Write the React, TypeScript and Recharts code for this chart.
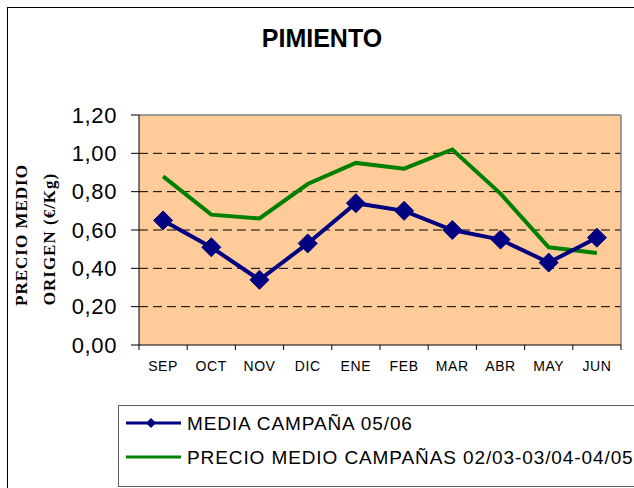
import React from 'react';
import { LineChart, Line, XAxis, YAxis, CartesianGrid, ReferenceLine, Legend } from 'recharts';

const months = ['SEP', 'OCT', 'NOV', 'DIC', 'ENE', 'FEB', 'MAR', 'ABR', 'MAY', 'JUN'];
const media0506 = [0.65, 0.51, 0.34, 0.53, 0.74, 0.70, 0.60, 0.55, 0.43, 0.56];
const precioMedio = [0.88, 0.68, 0.66, 0.84, 0.95, 0.92, 1.02, 0.79, 0.51, 0.48];
const yTicks = [0, 0.2, 0.4, 0.6, 0.8, 1.0, 1.2];
const gridValues = [0.2, 0.4, 0.6, 0.8, 1.0];
const seriesNames = ['MEDIA CAMPAÑA 05/06', 'PRECIO MEDIO CAMPAÑAS 02/03-03/04-04/05'];
const title = 'PIMIENTO';
const yLabel = ['PRECIO MEDIO', 'ORIGEN (€/Kg)'];

const data = months.map((m, i) => ({ x: i + 0.5, month: m, media: media0506[i], precio: precioMedio[i] }));
const xTicks: number[] = [];
for (let i = 0; i <= 20; i++) xTicks.push(i / 2);

const BLUE = '#000080';
const GREEN = '#008000';
const SANS = '"Liberation Sans", Arial, sans-serif';
const SERIF = '"Liberation Serif", "Times New Roman", serif';

const XTick = (props: any) => {
  const { x, y, payload } = props;
  const v = payload.value;
  if (Number.isInteger(v)) {
    return <line x1={x} y1={y} x2={x} y2={y + 5} stroke="#000" strokeWidth={1} />;
  }
  const label = months[Math.floor(v)];
  return (
    <text x={x} y={y + 26} textAnchor="middle" fontFamily={SANS} fontSize={14} fill="#000" letterSpacing={0.6}>
      {label}
    </text>
  );
};

const Diamond = (props: any) => {
  const { cx, cy } = props;
  if (cx == null || cy == null) return null;
  const r = 9.5;
  return <polygon points={`${cx},${cy - r} ${cx + r},${cy} ${cx},${cy + r} ${cx - r},${cy}`} fill={BLUE} stroke={BLUE} />;
};

const LegendContent = () => (
  <div style={{ width: 540, height: 82, border: '1px solid #606060', background: '#fff', boxSizing: 'border-box', position: 'relative' }}>
    <svg width={540} height={82} style={{ position: 'absolute', left: 0, top: 0 }}>
      <line x1={7} y1={17} x2={62} y2={17} stroke={BLUE} strokeWidth={3} />
      <polygon points="32,12 37,17 32,22 27,17" fill={BLUE} />
      <text x={68} y={24} fontFamily={SANS} fontSize={19} fill="#000" letterSpacing={0.9}>{seriesNames[0]}</text>
      <line x1={7} y1={51} x2={62} y2={51} stroke={GREEN} strokeWidth={3} />
      <text x={68} y={58} fontFamily={SANS} fontSize={19} fill="#000" letterSpacing={0.9}>{seriesNames[1]}</text>
    </svg>
  </div>
);

export default function App() {
  return (
    <div style={{ position: 'absolute', left: 0, top: 0, width: 634, height: 488, overflow: 'hidden', background: '#fff' }}>
      <div style={{ position: 'absolute', left: 7, top: 7, width: 700, height: 600, border: '1px solid #000' }} />
      <div style={{ position: 'absolute', left: 0, top: 0 }}>
        <LineChart width={634} height={488} data={data} margin={{ top: 115, right: 13, bottom: 113, left: 0 }}>
          <CartesianGrid
            vertical={false}
            horizontalValues={gridValues}
            stroke="#000"
            strokeDasharray="9 5"
            fill="#FFCC99"
            fillOpacity={1}
          />
          <ReferenceLine y={1.2} stroke="#808080" strokeWidth={1.5} />
          <ReferenceLine x={10} stroke="#808080" strokeWidth={1.5} />
          <XAxis
            dataKey="x"
            type="number"
            domain={[0, 10]}
            ticks={xTicks}
            interval={0}
            tickLine={false}
            tickSize={0}
            tickMargin={0}
            height={30}
            axisLine={{ stroke: '#000' }}
            tick={<XTick />}
          />
          <YAxis
            width={139}
            domain={[0, 1.2]}
            ticks={yTicks}
            interval={0}
            tickSize={8}
            tickMargin={14}
            axisLine={{ stroke: '#000' }}
            tickLine={{ stroke: '#000' }}
            tickFormatter={(v: number) => v.toFixed(2).replace('.', ',')}
            tick={{ fill: '#000', fontFamily: SANS, fontSize: 22, letterSpacing: 0.6 }}
          />
          <Legend
            layout="horizontal"
            verticalAlign="middle"
            align="center"
            content={<LegendContent />}
            wrapperStyle={{ position: 'absolute', left: 118, top: 405, width: 540, height: 82 }}
          />
          <Line dataKey="precio" stroke={GREEN} strokeWidth={4} dot={false} isAnimationActive={false} />
          <Line dataKey="media" stroke={BLUE} strokeWidth={4} dot={<Diamond />} activeDot={false} isAnimationActive={false} />
        </LineChart>
      </div>
      <svg width={634} height={488} style={{ position: 'absolute', left: 0, top: 0, pointerEvents: 'none' }}>
        <text x={322} y={47} textAnchor="middle" fontFamily={SANS} fontWeight="bold" fontSize={25} fill="#000">{title}</text>
        <text transform="translate(27,235) rotate(-90)" textAnchor="middle" fontFamily={SERIF} fontWeight="bold" fontSize={17} letterSpacing={1} fill="#000">{yLabel[0]}</text>
        <text transform="translate(55,239) rotate(-90)" textAnchor="middle" fontFamily={SERIF} fontWeight="bold" fontSize={17} letterSpacing={1} fill="#000">{yLabel[1]}</text>
      </svg>
    </div>
  );
}
